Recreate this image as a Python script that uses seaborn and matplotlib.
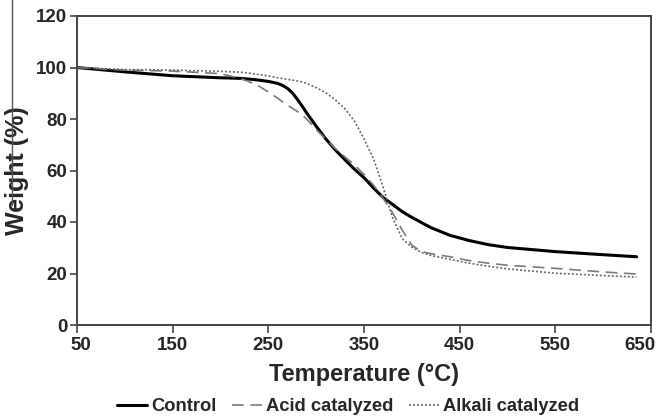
import matplotlib
matplotlib.use("Agg")
import matplotlib.pyplot as plt
from matplotlib.lines import Line2D
import matplotlib.transforms as mtrans
import seaborn as sns
import pandas as pd

# Temperature readings (°C)
temperature = [50, 100, 150, 200, 220, 230, 240, 250, 260, 265, 270, 275, 280, 285, 290, 300, 310, 320,
               330, 340, 350, 360, 370, 380, 390, 400, 410, 420, 440, 460, 480, 500,
               550, 600, 635]
# Weight (%) per series
control = [100, 98.3, 96.8, 96.0, 95.8, 95.5, 95.1, 94.6, 93.8, 93.0, 91.9, 90.2, 87.8, 85.2, 82.4, 77.2, 72.3, 68.0,
           64.2, 60.5, 57.2, 53.2, 49.5, 46.8, 44.0, 41.8, 39.8, 37.8, 34.8, 32.8, 31.2, 30.1,
           28.5, 27.3, 26.5]
acid = [100, 99.0, 98.6, 97.6, 95.8, 94.5, 92.8, 90.5, 88.0, 86.6, 85.3, 84.2, 83.0, 81.7, 80.0, 75.9, 72.3, 68.5,
        65.3, 62.2, 58.5, 54.3, 49.2, 43.5, 36.8, 31.0, 28.5, 27.7, 26.5, 25.0, 24.0, 23.2,
        22.0, 20.6, 19.8]
alkali = [100, 99.2, 99.0, 98.5, 98.2, 97.8, 97.3, 96.7, 96.0, 95.7, 95.4, 95.1, 94.8, 94.4, 93.8, 92.2, 90.2, 87.5,
          84.0, 79.2, 72.3, 64.5, 53.5, 41.5, 33.5, 30.2, 28.2, 27.0, 25.5, 24.0, 22.8, 21.8,
          20.1, 19.2, 18.6]
series_names = ["Control", "Acid catalyzed", "Alkali catalyzed"]
x_ticks = [50, 150, 250, 350, 450, 550, 650]
y_ticks = [0, 20, 40, 60, 80, 100, 120]

sns.set_style("white")
plt.rcParams["font.family"] = ["Liberation Sans", "DejaVu Sans"]
plt.rcParams["font.weight"] = "bold"

rows = []
for name, vals in zip(series_names, [control, acid, alkali]):
    for t, v in zip(temperature, vals):
        rows.append({"Temperature": t, "Weight": v, "Series": name})
df = pd.DataFrame(rows)

fig = plt.figure(figsize=(6.63, 4.16), dpi=100)
ax = fig.add_axes([77/663, 1-325/416, 574/663, 309/416])

styles = {
    "Control": dict(color="#000000", lw=2.2, ls="-"),
    "Acid catalyzed": dict(color="#7a7a7a", lw=1.2, ls=(0, (7, 4))),
    "Alkali catalyzed": dict(color="#6a6a6a", lw=1.2, ls=(0, (1.2, 1.2))),
}
handles = []
for name in series_names:
    sub = df[df["Series"] == name]
    st = styles[name]
    sns.lineplot(data=sub, x="Temperature", y="Weight", ax=ax, color=st["color"],
                 linewidth=st["lw"], linestyle=st["ls"], legend=False, estimator=None)
    handles.append(Line2D([], [], color=st["color"], lw=st["lw"], ls=st["ls"]))

ax.set_xlim(50, 650)
ax.set_ylim(0, 120)
ax.set_xticks(x_ticks)
ax.set_yticks(y_ticks)
ax.set_xticklabels([str(t) for t in x_ticks], fontsize=13.5, fontweight="bold")
ax.set_yticklabels([str(t) for t in y_ticks], fontsize=13.5, fontweight="bold")
ax.tick_params(axis="x", direction="out", length=6, width=1.2, color="#444444", pad=3, bottom=True)
ax.tick_params(axis="y", direction="out", length=5, width=1.2, color="#444444", pad=2, left=True)
for s in ax.spines.values():
    s.set_visible(True)
    s.set_color("#444444")
    s.set_linewidth(1.4)

# nudge edge tick labels inward as in the reference
xl = ax.get_xticklabels()
xl[0].set_transform(xl[0].get_transform() + mtrans.ScaledTranslation(4/100, 0, fig.dpi_scale_trans))
xl[-1].set_transform(xl[-1].get_transform() + mtrans.ScaledTranslation(-11/100, 0, fig.dpi_scale_trans))

ax.set_xlabel("Temperature (°C)", fontsize=17, fontweight="bold")
ax.set_ylabel("Weight (%)", fontsize=18, fontweight="bold")
ax.xaxis.set_label_coords(0.5, -0.123)
ax.yaxis.set_label_coords(-0.0836, 0.5)

fig.legend(handles, series_names, loc="center", bbox_to_anchor=(0.525, 1-406.5/416),
           ncol=3, frameon=False, prop={"size": 13.2, "weight": "bold"},
           handlelength=1.65, handletextpad=0.22, columnspacing=0.85, borderpad=0)

fig.add_artist(Line2D([12/663, 12/663], [1, 1-205/416], color="#555555", lw=1.0))

fig.savefig("out.png", dpi=100)
